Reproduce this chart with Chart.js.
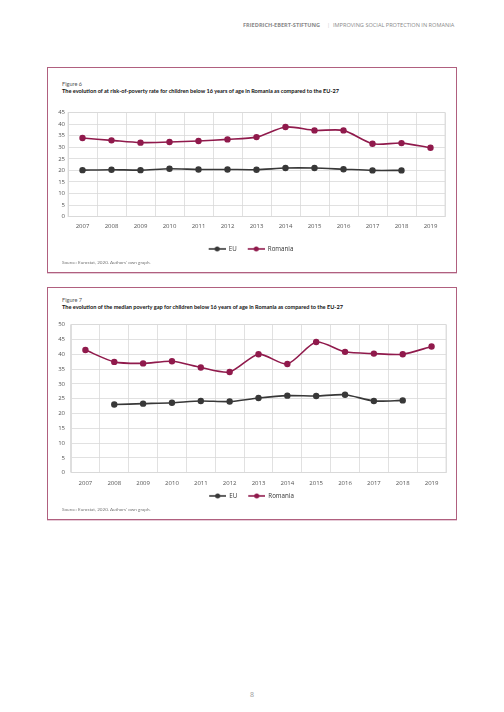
<!DOCTYPE html>
<html>
<head>
<meta charset="utf-8">
<script src="https://cdn.jsdelivr.net/npm/chart.js@4"></script>
<style>
  body { margin: 0; background: #fff; font-family: "Open Sans", sans-serif; }
  .page { position: relative; width: 504px; height: 712px; overflow: hidden; }
  .hdr { position: absolute; top: 22px; font-size: 5.6px; line-height: 7px; color: #8a8a8a; white-space: nowrap; }
  .box { position: absolute; left: 47px; width: 408px; border: 1px solid #b0607f; box-shadow: 0 1px 0 #e6cbd7; }
  .fig { position: absolute; left: 62px; font-family: Lato, sans-serif; font-size: 5.6px; line-height: 6px; color: #555; }
  .ttl { position: absolute; left: 62px; font-family: Lato, sans-serif; font-size: 5.6px; line-height: 6px; font-weight: bold; color: #111; white-space: nowrap; }
  .src { position: absolute; left: 62px; font-family: Lato, sans-serif; font-size: 4.6px; line-height: 5px; color: #777; white-space: nowrap; }
  .cv { position: absolute; left: 50px; }
  .pg { position: absolute; left: 250px; top: 690px; font-size: 7px; color: #999; }
</style>
</head>
<body>
<div class="page">
  <div class="hdr" style="left:243px;font-weight:bold;">FRIEDRICH-EBERT-STIFTUNG</div>
  <div class="hdr" style="left:327px;color:#ccc;">|</div>
  <div class="hdr" style="left:333px;">IMPROVING SOCIAL PROTECTION IN ROMANIA</div>

  <div class="box" style="top:67px;height:204px;"></div>
  <div class="fig" style="top:81px;">Figure 6</div>
  <div class="ttl" style="top:88px;">The evolution of at risk-of-poverty rate for children below 16 years of age in Romania as compared to the EU-27</div>
  <div class="cv" style="top:106px;width:400px;height:156px;"><canvas id="c1"></canvas></div>
  <div class="src" style="top:259.5px;">Source: Eurostat, 2020. Authors' own graph.</div>

  <div class="box" style="top:287px;height:231px;"></div>
  <div class="fig" style="top:297px;">Figure 7</div>
  <div class="ttl" style="top:304px;">The evolution of the median poverty gap for children below 16 years of age in Romania as compared to the EU-27</div>
  <div class="cv" style="top:315px;width:401px;height:194px;"><canvas id="c2"></canvas></div>
  <div class="src" style="top:506.5px;">Source: Eurostat, 2020. Authors' own graph.</div>

  <div class="pg">8</div>
</div>
<script>
const years = ['2007', '2008', '2009', '2010', '2011', '2012', '2013', '2014', '2015', '2016', '2017', '2018', '2019'];

// Figure 6: at-risk-of-poverty rate, children below 16
const riskEU = [20.1, 20.3, 20.1, 20.7, 20.4, 20.4, 20.3, 21.0, 21.0, 20.5, 20.0, 20.0, null];
const riskRomania = [34.0, 33.0, 32.0, 32.3, 32.7, 33.4, 34.4, 38.8, 37.3, 37.3, 31.5, 31.8, 29.8];

// Figure 7: median poverty gap, children below 16
const gapEU = [null, 23.0, 23.3, 23.6, 24.2, 24.0, 25.2, 26.0, 25.9, 26.3, 24.2, 24.4, null];
const gapRomania = [41.4, 37.4, 36.9, 37.6, 35.5, 34.0, 40.0, 36.7, 44.1, 40.8, 40.2, 40.0, 42.6];

const EU_COLOR = '#383838';
const RO_COLOR = '#901a4c';
const GRID = '#d9d9d9';
const TICK_FONT = { family: 'Open Sans', size: 6 };

// legend icon: short line with a dot, with blank room on the left as item gap
const ICON_W = 24;
const ICON_GAP = 7;
function legendIcon(color) {
    const c = document.createElement('canvas');
    c.width = ICON_W;
    c.height = 6;
    const g = c.getContext('2d');
    g.strokeStyle = color;
    g.lineWidth = 1.6;
    g.beginPath();
    g.moveTo(ICON_GAP, 3);
    g.lineTo(ICON_W, 3);
    g.stroke();
    g.fillStyle = color;
    g.beginPath();
    g.arc((ICON_GAP + ICON_W) / 2, 3, 2.5, 0, Math.PI * 2);
    g.fill();
    return c;
}
const icons = [legendIcon(EU_COLOR), legendIcon(RO_COLOR)];

function series(label, data, color) {
    return {
        label: label,
        data: data,
        borderColor: color,
        backgroundColor: color,
        borderWidth: 1.6,
        pointRadius: 2.4,
        pointHoverRadius: 2.4,
        tension: 0.25,
        spanGaps: false
    };
}

function makeChart(id, eu, ro, yMax, yWidth, yPad, xHeight, xPad) {
    new Chart(document.getElementById(id), {
        type: 'line',
        data: {
            labels: years,
            datasets: [series('EU', eu, EU_COLOR), series('Romania', ro, RO_COLOR)]
        },
        options: {
            responsive: true,
            maintainAspectRatio: false,
            animation: false,
            layout: { padding: { top: 6, right: 5, left: 0, bottom: 0 } },
            scales: {
                x: {
                    offset: true,
                    grid: { offset: true, color: GRID, lineWidth: 0.8, drawTicks: false },
                    border: { color: GRID, width: 0.8 },
                    ticks: { font: TICK_FONT, color: '#555', padding: xPad, maxRotation: 0, autoSkip: false },
                    afterFit: (s) => { s.height = xHeight; }
                },
                y: {
                    min: 0,
                    max: yMax,
                    grid: { color: GRID, lineWidth: 0.8, drawTicks: false },
                    border: { color: GRID, width: 0.8 },
                    ticks: { stepSize: 5, font: TICK_FONT, color: '#555', padding: yPad },
                    afterFit: (s) => { s.width = yWidth; }
                }
            },
            plugins: {
                legend: {
                    position: 'bottom',
                    labels: {
                        usePointStyle: true,
                        pointStyleWidth: ICON_W,
                        padding: 4,
                        color: '#333',
                        font: { family: 'Open Sans', size: 6.2 },
                        generateLabels: (chart) => {
                            const items = Chart.defaults.plugins.legend.labels.generateLabels(chart);
                            items.forEach(it => { it.pointStyle = icons[it.datasetIndex]; });
                            return items;
                        }
                    }
                },
                tooltip: { enabled: false }
            }
        },
        plugins: [{
            // draw a thin right edge so the plot is fully framed
            id: 'frame',
            afterDraw(chart) {
                const a = chart.chartArea;
                const ctx = chart.ctx;
                ctx.save();
                ctx.strokeStyle = GRID;
                ctx.lineWidth = 0.8;
                ctx.strokeRect(a.left, a.top, a.right - a.left, a.bottom - a.top);
                ctx.restore();
            }
        }]
    });
}

makeChart('c1', riskEU, riskRomania, 45, 18, 3, 25.2, 6);
makeChart('c2', gapEU, gapRomania, 50, 21, 6, 16.2, 7);
</script>
</body>
</html>
